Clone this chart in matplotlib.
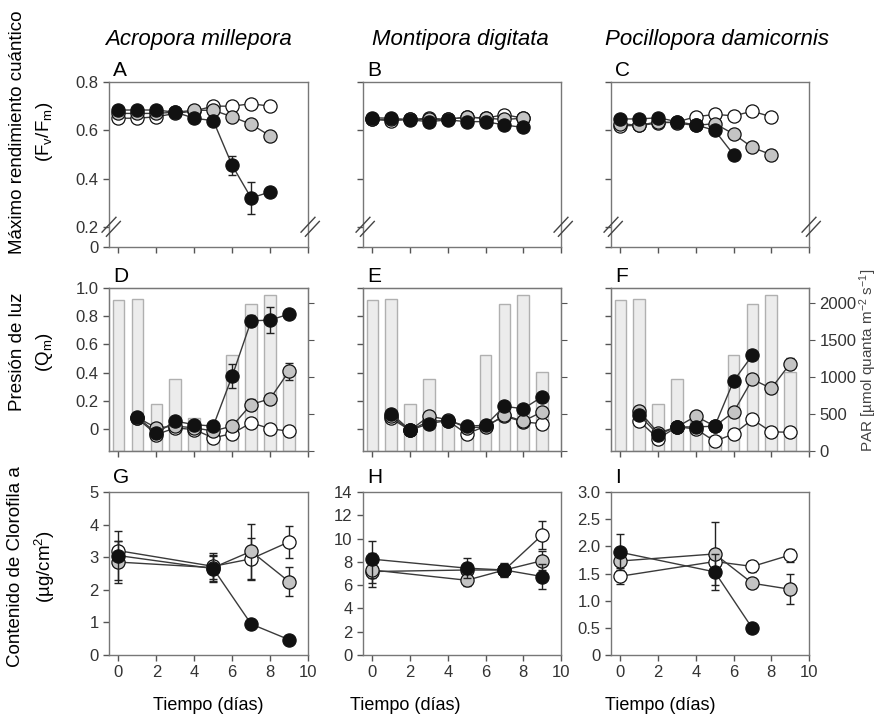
import numpy as np
import matplotlib.pyplot as plt

plt.rcParams['font.family'] = ['Liberation Sans', 'DejaVu Sans']
plt.rcParams['mathtext.default'] = 'regular'

species = ['Acropora millepora', 'Montipora digitata', 'Pocillopora damicornis']

# Fv/Fm (days 0-8)
a_open = [0.65, 0.65, 0.656, 0.67, 0.68, 0.70, 0.70, 0.71, 0.70]
a_grey = [0.67, 0.67, 0.67, 0.675, 0.683, 0.683, 0.656, 0.625, 0.577]
a_black = [0.684, 0.684, 0.684, 0.675, 0.65, 0.64, 0.455, 0.32, 0.345]
a_grey_err = [0, 0, 0, 0, 0, 0, 0, 0.012, 0]
a_black_err = [0, 0, 0, 0, 0, 0, 0.04, 0.065, 0]
b_open = [0.645, 0.64, 0.645, 0.65, 0.645, 0.655, 0.65, 0.665, 0.65]
b_grey = [0.645, 0.645, 0.645, 0.645, 0.645, 0.655, 0.65, 0.645, 0.65]
b_black = [0.652, 0.65, 0.643, 0.636, 0.643, 0.636, 0.636, 0.622, 0.612]
c_open = [0.619, 0.62, 0.63, 0.635, 0.656, 0.666, 0.66, 0.679, 0.656]
c_grey = [0.628, 0.62, 0.636, 0.63, 0.62, 0.628, 0.585, 0.529, 0.499]
c_black = [0.647, 0.647, 0.652, 0.636, 0.622, 0.60, 0.499]
c_grey_err = [0, 0, 0, 0, 0, 0, 0, 0.02, 0.02]

# Qm (days 1-9)
d_open = [0.074, -0.04, 0.007, -0.005, -0.064, -0.033, 0.043, 0.002, -0.017]
d_grey = [0.08, 0.007, 0.02, 0.007, -0.015, 0.02, 0.173, 0.214, 0.41]
d_black = [0.083, -0.03, 0.055, 0.03, 0.02, 0.375, 0.767, 0.772, 0.815]
d_grey_err = [0, 0, 0, 0, 0, 0, 0.04, 0, 0.06]
d_black_err = [0, 0, 0, 0, 0, 0.085, 0.04, 0.09, 0]
e_open = [0.074, -0.01, 0.055, 0.059, -0.036, 0.02, 0.09, 0.05, 0.036]
e_grey = [0.09, -0.01, 0.09, 0.066, 0.007, 0.014, 0.097, 0.055, 0.121]
e_black = [0.109, -0.01, 0.038, 0.059, 0.019, 0.026, 0.16, 0.143, 0.228]
f_open = [0.055, -0.069, 0.014, 0.0, -0.088, -0.036, 0.067, -0.021, -0.024]
f_grey = [0.126, -0.029, 0.014, 0.09, 0.019, 0.119, 0.352, 0.287, 0.463]
f_black = [0.097, -0.04, 0.014, 0.014, 0.019, 0.34, 0.523]
f_grey_err = [0, 0, 0, 0, 0, 0, 0, 0.02, 0.04]

# PAR (days 0-9)
par = [2050, 2060, 640, 980, 450, 200, 1300, 1990, 2110, 1070]

# chlorophyll (days 0, 5, 7, 9)
chl_days = [0, 5, 7, 9]
g_open = [3.2, 2.72, 2.95, 3.47]
g_grey = [2.85, 2.68, 3.18, 2.25]
g_black = [3.05, 2.65, 0.95, 0.47]
g_open_err = [0.3, 0.4, 0.65, 0.48]
g_grey_err = [0.65, 0.4, 0.85, 0.45]
g_black_err = [0.75, 0.4, 0.1, 0.05]
h_open = [7.17, 7.3, 7.3, 10.3]
h_grey = [7.3, 6.42, 7.3, 8.1]
h_black = [8.23, 7.46, 7.3, 6.74]
h_open_err = [1.0, 0.6, 0.5, 1.2]
h_grey_err = [1.5, 0.5, 0.5, 0.8]
h_black_err = [1.6, 0.85, 0.6, 1.1]
i_open = [1.45, 1.72, 1.63, 1.84]
i_grey = [1.73, 1.86, 1.32, 1.21]
i_black = [1.89, 1.53, 0.49]
i_open_err = [0.15, 0.1, 0.1, 0.12]
i_grey_err = [0.1, 0.58, 0.08, 0.28]
i_black_err = [0.33, 0.33, 0.03]

fv_ticks = [0.117, 0.2, 0.4, 0.6, 0.8]
fv_labels = ['0', '0.2', '0.4', '0.6', '0.8']
q_ticks = [0, 0.2, 0.4, 0.6, 0.8, 1.0]
q_labels = ['0', '0.2', '0.4', '0.6', '0.8', '1.0']
par_ticks = [0, 500, 1000, 1500, 2000]
x_ticks = [0, 2, 4, 6, 8, 10]

W, H = 880, 719
fig = plt.figure(figsize=(8.8, 7.19), dpi=100)

lefts = [109, 363, 611]
widths = [199, 198, 198]
rows = [(82, 247), (288, 451), (492, 655)]

tick_col = '#333333'
spine_col = '#777777'


def make_ax(c, r):
    t, b = rows[r]
    ax = fig.add_axes([lefts[c] / W, 1 - b / H, widths[c] / W, (b - t) / H])
    for s in ax.spines.values():
        s.set_color(spine_col)
        s.set_linewidth(1)
    ax.tick_params(direction='out', length=4, color='#555555', labelsize=12,
                   labelcolor=tick_col, width=1)
    ax.set_xlim(-0.5, 10)
    ax.set_xticks(x_ticks)
    return ax


def series(ax, x, y, err, fc, z):
    ax.plot(x, y, '-', color='#3a3a3a', lw=1, zorder=z)
    if err is not None:
        ax.errorbar(x, y, yerr=err, fmt='none', ecolor='#222222', elinewidth=1,
                    capsize=3, capthick=1, zorder=z)
    ax.plot(x, y, 'o', ms=9.5, mfc=fc, mec='#111111', mew=0.9, zorder=z + 0.5)


letters = 'ABCDEFGHI'
top_data = [(a_open, None, a_grey, a_grey_err, a_black, a_black_err),
            (b_open, None, b_grey, None, b_black, None),
            (c_open, None, c_grey, c_grey_err, c_black, None)]
mid_data = [(d_open, d_grey, d_grey_err, d_black, d_black_err),
            (e_open, e_grey, None, e_black, None),
            (f_open, f_grey, f_grey_err, f_black, None)]
bot_data = [(g_open, g_open_err, g_grey, g_grey_err, g_black, g_black_err, 5, [0, 1, 2, 3, 4, 5]),
            (h_open, h_open_err, h_grey, h_grey_err, h_black, h_black_err, 14, [0, 2, 4, 6, 8, 10, 12, 14]),
            (i_open, i_open_err, i_grey, i_grey_err, i_black, i_black_err, 3, [0, 0.5, 1.0, 1.5, 2.0, 2.5, 3.0])]

for c in range(3):
    # top row
    ax = make_ax(c, 0)
    o, oe, g, ge, b, be = top_data[c]
    series(ax, np.arange(len(o)), o, oe, 'white', 3)
    series(ax, np.arange(len(g)), g, ge, '#c4c4c4', 4)
    series(ax, np.arange(len(b)), b, be, '#111111', 5)
    ax.set_ylim(0.117, 0.8)
    ax.set_yticks(fv_ticks)
    ax.set_yticklabels(fv_labels if c == 0 else [])
    ax.set_xticklabels([])
    for xs in (0, 1):
        for off in (0, 1):
            dx, dy = 0.022 * off, -0.025 * off
            ax.plot([xs - 0.035 + dx, xs + 0.035 + dx], [0.09 + dy, 0.18 + dy],
                    transform=ax.transAxes, color='#444444', lw=1, clip_on=False, zorder=10)
    ax.text(0.02, 1.01, letters[c], transform=ax.transAxes, fontsize=15, va='bottom')

    # middle row
    ax = make_ax(c, 1)
    ax2 = ax.twinx()
    ax2.bar(np.arange(len(par)), par, width=0.62, color='#ececec', edgecolor='#b0b0b0', lw=1)
    ax2.set_ylim(0, 2210)
    ax2.set_yticks(par_ticks)
    ax2.tick_params(direction='out', length=4, color='#555555', labelsize=12,
                    labelcolor=tick_col)
    if c < 2:
        ax2.set_yticklabels([])
    for s in ax2.spines.values():
        s.set_color(spine_col)
    ax.set_zorder(ax2.get_zorder() + 1)
    ax.patch.set_visible(False)
    o, g, ge, b, be = mid_data[c]
    series(ax, np.arange(1, 1 + len(o)), o, None, 'white', 3)
    series(ax, np.arange(1, 1 + len(g)), g, ge, '#c4c4c4', 4)
    series(ax, np.arange(1, 1 + len(b)), b, be, '#111111', 5)
    ax.set_ylim(-0.157, 1.0)
    ax.set_yticks(q_ticks)
    ax.set_yticklabels(q_labels if c == 0 else [])
    ax.set_xticklabels([])
    ax.text(0.02, 1.01, letters[3 + c], transform=ax.transAxes, fontsize=15, va='bottom')

    # bottom row
    ax = make_ax(c, 2)
    o, oe, g, ge, b, be, top, yt = bot_data[c]
    series(ax, chl_days[:len(o)], o, oe, 'white', 3)
    series(ax, chl_days[:len(g)], g, ge, '#c4c4c4', 4)
    series(ax, chl_days[:len(b)], b, be, '#111111', 5)
    ax.set_ylim(0, top)
    ax.set_yticks(yt)
    if c == 2:
        ax.set_yticklabels(['0', '0.5', '1.0', '1.5', '2.0', '2.5', '3.0'])
    ax.text(0.02, 1.03, letters[6 + c], transform=ax.transAxes, fontsize=15, va='bottom')

# column titles
for cx, name in zip([198, 460, 717], species):
    fig.text(cx / W, 1 - 40 / H, name, fontsize=16, style='italic', ha='center', va='center')

# row labels
fig.text(32 / W, 1 - 132 / H, 'Máximo rendimiento cuántico\n(F$_v$/F$_m$)', rotation=90,
         fontsize=13.5, ha='center', va='center', linespacing=1.5, multialignment='center')
fig.text(32 / W, 1 - 352 / H, 'Presión de luz\n(Q$_m$)', rotation=90,
         fontsize=13.5, ha='center', va='center', linespacing=1.5, multialignment='center')
fig.text(32 / W, 1 - 567 / H, 'Contenido de Clorofila a\n(µg/cm$^2$)', rotation=90,
         fontsize=13.5, ha='center', va='center', linespacing=1.5, multialignment='center')
fig.text(868 / W, 1 - 360 / H, 'PAR [µmol quanta m$^{-2}$ s$^{-1}$]', rotation=90,
         fontsize=11, color='#444444', ha='center', va='center')

for cx in [208, 405, 660]:
    fig.text(cx / W, 1 - 706 / H, 'Tiempo (días)', fontsize=13, ha='center', va='center')

fig.savefig('out.png', dpi=100)
